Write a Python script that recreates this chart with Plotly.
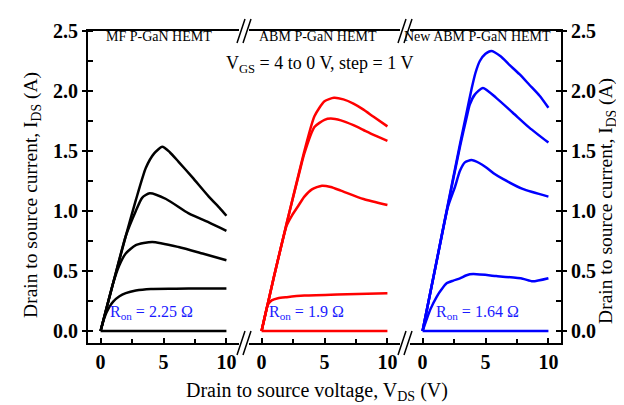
import plotly.graph_objects as go

# ---------------- data ----------------
# MF P-GaN HEMT (black), VGS = 4,3,2,1,0 V
mf_v4 = [0, 1, 2, 2.8, 3.6, 4.26, 4.9, 5.5, 6.2, 7.3, 8.6, 9.5, 10]
mf_i4 = [0, 0.40, 0.79, 1.09, 1.36, 1.48, 1.535, 1.49, 1.41, 1.28, 1.12, 1.02, 0.96]
mf_v3 = [0, 1, 2, 2.8, 3.3, 3.9, 5.2, 7.0, 8.6, 10]
mf_i3 = [0, 0.40, 0.79, 1.00, 1.11, 1.148, 1.10, 0.98, 0.905, 0.835]
mf_v2 = [0, 1, 1.5, 2, 2.8, 4.1, 6.2, 8.1, 10]
mf_i2 = [0, 0.40, 0.55, 0.646, 0.715, 0.742, 0.70, 0.646, 0.59]
mf_v1 = [0, 0.3, 0.7, 1.0, 1.5, 2, 2.8, 4, 6, 8, 10]
mf_i1 = [0, 0.11, 0.20, 0.245, 0.29, 0.315, 0.337, 0.35, 0.352, 0.355, 0.355]
mf_v0 = [0, 10]
mf_i0 = [0, 0]

# ABM P-GaN HEMT (red)
abm_v4 = [0, 1, 2, 3, 3.4, 4.2, 5, 5.75, 6.5, 7.3, 8.1, 8.9, 10]
abm_i4 = [0, 0.46, 0.90, 1.33, 1.50, 1.79, 1.915, 1.943, 1.93, 1.895, 1.845, 1.785, 1.705]
abm_v3 = [0, 1, 2, 3, 3.4, 4.2, 5, 5.5, 6.3, 7.3, 8.1, 8.9, 10]
abm_i3 = [0, 0.46, 0.90, 1.32, 1.48, 1.70, 1.76, 1.77, 1.755, 1.715, 1.675, 1.635, 1.585]
abm_v2 = [0, 1, 2, 2.4, 2.9, 3.4, 4.0, 4.8, 5.5, 6.3, 8.1, 10]
abm_i2 = [0, 0.46, 0.88, 0.96, 1.04, 1.12, 1.18, 1.211, 1.20, 1.17, 1.10, 1.05]
abm_v1 = [0, 0.25, 0.5, 0.8, 1.3, 2, 3.4, 6, 10]
abm_i1 = [0, 0.12, 0.22, 0.255, 0.273, 0.282, 0.295, 0.305, 0.315]
abm_v0 = [0, 10]
abm_i0 = [0, 0]

# New ABM P-GaN HEMT (blue)
new_v4 = [0, 1, 2, 3, 3.5, 3.9, 4.2, 4.55, 5.0, 5.46, 6.2, 6.9, 7.7, 8.5, 9.3, 10]
new_i4 = [0, 0.52, 1.05, 1.57, 1.82, 2.02, 2.15, 2.25, 2.31, 2.334, 2.29, 2.218, 2.14, 2.05, 1.96, 1.86]
new_v3 = [0, 1, 2, 3, 3.5, 3.75, 4.15, 4.8, 5.85, 7.17, 8.48, 10]
new_i3 = [0, 0.52, 1.04, 1.55, 1.78, 1.887, 1.97, 2.026, 1.943, 1.819, 1.695, 1.57]
new_v2 = [0, 1, 2, 2.57, 2.97, 3.36, 3.88, 4.5, 5.06, 5.7, 6.38, 7.95, 10]
new_i2 = [0, 0.52, 1.03, 1.20, 1.335, 1.405, 1.424, 1.40, 1.363, 1.31, 1.267, 1.184, 1.12]
new_v1 = [0, 0.3, 0.6, 1.13, 1.5, 1.91, 2.44, 2.97, 3.5, 4.02, 5.85, 7.95, 8.74, 10]
new_i1 = [0, 0.09, 0.176, 0.287, 0.345, 0.397, 0.42, 0.439, 0.465, 0.474, 0.458, 0.436, 0.414, 0.44]
new_v0 = [0, 10]
new_i0 = [0, 0]

panel_titles = ["MF P-GaN HEMT", "ABM P-GaN HEMT", "New ABM P-GaN HEMT"]
ron_labels = ["R<sub>on</sub> = 2.25 Ω", "R<sub>on</sub> = 1.9 Ω", "R<sub>on</sub> = 1.64 Ω"]
x_ticks = [0, 5, 10]
y_ticks = [0.0, 0.5, 1.0, 1.5, 2.0, 2.5]

# ---------------- figure ----------------
W, H = 624, 405
ML, MR, MT, MB = 80, 71, 21, 70
PW = W - ML - MR
PH = H - MT - MB

def px(xp):
    return (xp - ML) / PW

def py(yp):
    return (H - MB - yp) / PH

FONT = "Liberation Serif"
fig = go.Figure()

groups = [
    ("x", "#000000", [(mf_v4, mf_i4), (mf_v3, mf_i3), (mf_v2, mf_i2), (mf_v1, mf_i1), (mf_v0, mf_i0)]),
    ("x2", "#ff0000", [(abm_v4, abm_i4), (abm_v3, abm_i3), (abm_v2, abm_i2), (abm_v1, abm_i1), (abm_v0, abm_i0)]),
    ("x3", "#0000ff", [(new_v4, new_i4), (new_v3, new_i3), (new_v2, new_i2), (new_v1, new_i1), (new_v0, new_i0)]),
]
for xa, col, curves in groups:
    for vx, iy in curves:
        fig.add_trace(go.Scatter(x=vx, y=iy, mode="lines", xaxis=xa, yaxis="y",
                                 line=dict(color=col, width=2.5, shape="spline", smoothing=0.6),
                                 showlegend=False, hoverinfo="skip"))
# dummy trace to create right-hand axis
fig.add_trace(go.Scatter(x=[None], y=[None], xaxis="x3", yaxis="y2", showlegend=False, hoverinfo="skip"))

gap = 10
pw = (PW - 2 * gap) / 3
doms = []
for k in range(3):
    a = k * (pw + gap)
    doms.append([a / PW, (a + pw) / PW])

tickfont = dict(family=FONT, size=20, color="black", weight="bold")
xcommon = dict(range=[-1, 11], tickvals=x_ticks, ticks="inside", ticklen=5, tickwidth=1.5,
               tickcolor="black", showline=True, linewidth=1.8, linecolor="black", mirror=True,
               showgrid=False, zeroline=False, tickfont=tickfont, anchor="y",
               minor=dict(dtick=2.5, tick0=0, ticks="inside", ticklen=4, tickwidth=1.5, tickcolor="black"))
ycommon = dict(range=[-0.1, 2.5], tickvals=y_ticks, tickformat=".1f", ticks="outside", ticklen=4,
               tickwidth=1.5, tickcolor="black", showline=True, linewidth=1.8, linecolor="black",
               showgrid=False, zeroline=False, tickfont=tickfont, domain=[0, 1], ticklabelstandoff=0,
               minor=dict(dtick=0.25, tick0=0, ticks="inside", ticklen=5, tickwidth=1.5, tickcolor="black"))

fig.update_layout(
    width=W, height=H,
    margin=dict(l=ML, r=MR, t=MT, b=MB, pad=0),
    paper_bgcolor="white", plot_bgcolor="white",
    font=dict(family=FONT, color="black"),
    xaxis=dict(domain=doms[0], **xcommon),
    xaxis2=dict(domain=doms[1], **xcommon),
    xaxis3=dict(domain=doms[2], **xcommon),
    yaxis=dict(anchor="x", side="left", **ycommon),
    yaxis2=dict(anchor="x3", side="right", overlaying="y", **ycommon),
)

ann = []
title_x = [151, 310, 469]
for t, xc in zip(panel_titles, title_x):
    ann.append(dict(text=t, x=px(xc), y=py(27), xref="paper", yref="paper", showarrow=False,
                    xanchor="center", yanchor="middle", font=dict(family=FONT, size=14, color="black")))
ann.append(dict(text="V<sub>GS</sub> = 4 to 0 V, step = 1 V", x=px(311), y=py(55), xref="paper", yref="paper",
                showarrow=False, xanchor="center", yanchor="middle", font=dict(family=FONT, size=18, color="black")))
ron_x = [100, 259, 426]
for t, xl in zip(ron_labels, ron_x):
    ann.append(dict(text=t, x=px(xl), y=py(304), xref="paper", yref="paper", showarrow=False,
                    xanchor="left", yanchor="middle", font=dict(family=FONT, size=16, color="#1a1aff")))
ylab = "Drain to source current, I<sub>DS</sub> (A)"
ann.append(dict(text=ylab, x=px(24), y=py(186), xref="paper", yref="paper", showarrow=False, textangle=-90,
                xanchor="center", yanchor="middle", font=dict(family=FONT, size=19.5, color="black")))
ann.append(dict(text=ylab, x=px(599), y=py(192), xref="paper", yref="paper", showarrow=False, textangle=-90,
                xanchor="center", yanchor="middle", font=dict(family=FONT, size=19.5, color="black")))
ann.append(dict(text="Drain to source voltage, V<sub>DS</sub> (V)", x=px(309), y=py(384), xref="paper", yref="paper",
                showarrow=False, xanchor="center", yanchor="middle", font=dict(family=FONT, size=20, color="black")))
fig.update_layout(annotations=ann)

# axis-break marks "//" at top and bottom
shapes = []
for k in range(2):
    xc = ML + (k + 1) * (pw + gap) - gap / 2
    for yc in (MT, H - MB):
        for off in (-3, 3):
            shapes.append(dict(type="line", xref="paper", yref="paper",
                               x0=px(xc + off - 4), y0=py(yc + 12), x1=px(xc + off + 4), y1=py(yc - 12),
                               line=dict(color="black", width=1.5)))
fig.update_layout(shapes=shapes)

fig.write_html("out.html")
